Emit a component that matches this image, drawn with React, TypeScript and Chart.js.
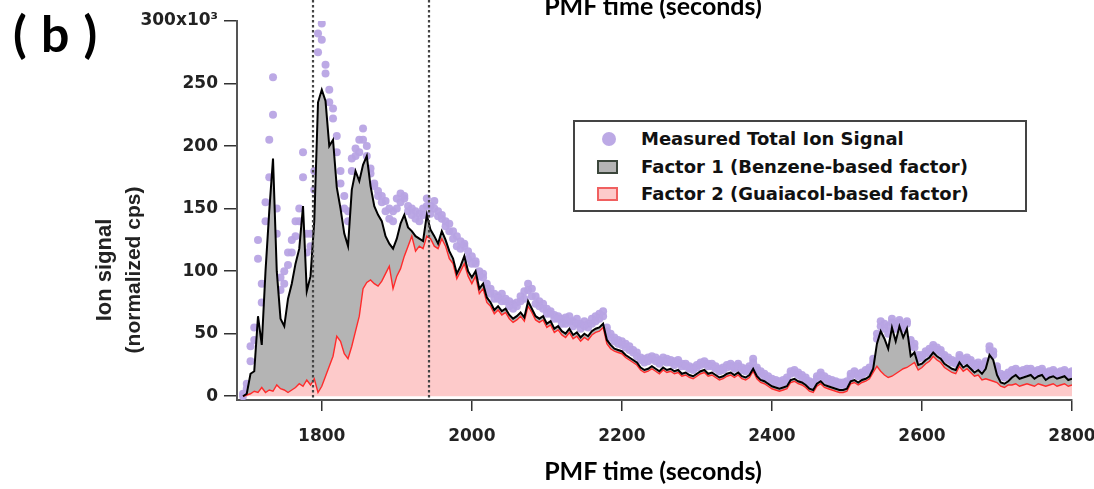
import React, { useEffect, useRef } from "react";
import { Chart, registerables } from "chart.js";

Chart.register(...registerables);

// PMF time (seconds)
const times = [
  1695, 1700, 1705, 1710, 1715, 1720, 1725, 1730, 1735, 1740,
  1745, 1750, 1755, 1760, 1765, 1770, 1775, 1780, 1785, 1790,
  1795, 1800, 1805, 1810, 1815, 1820, 1825, 1830, 1835, 1840,
  1845, 1850, 1855, 1860, 1865, 1870, 1875, 1880, 1885, 1890,
  1895, 1900, 1905, 1910, 1915, 1920, 1925, 1930, 1935, 1940,
  1945, 1950, 1955, 1960, 1965, 1970, 1975, 1980, 1985, 1990,
  1995, 2000, 2005, 2010, 2015, 2020, 2025, 2030, 2035, 2040,
  2045, 2050, 2055, 2060, 2065, 2070, 2075, 2080, 2085, 2090,
  2095, 2100, 2105, 2110, 2115, 2120, 2125, 2130, 2135, 2140,
  2145, 2150, 2155, 2160, 2165, 2170, 2175, 2180, 2185, 2190,
  2195, 2200, 2205, 2210, 2215, 2220, 2225, 2230, 2235, 2240,
  2245, 2250, 2255, 2260, 2265, 2270, 2275, 2280, 2285, 2290,
  2295, 2300, 2305, 2310, 2315, 2320, 2325, 2330, 2335, 2340,
  2345, 2350, 2355, 2360, 2365, 2370, 2375, 2380, 2385, 2390,
  2395, 2400, 2405, 2410, 2415, 2420, 2425, 2430, 2435, 2440,
  2445, 2450, 2455, 2460, 2465, 2470, 2475, 2480, 2485, 2490,
  2495, 2500, 2505, 2510, 2515, 2520, 2525, 2530, 2535, 2540,
  2545, 2550, 2555, 2560, 2565, 2570, 2575, 2580, 2585, 2590,
  2595, 2600, 2605, 2610, 2615, 2620, 2625, 2630, 2635, 2640,
  2645, 2650, 2655, 2660, 2665, 2670, 2675, 2680, 2685, 2690,
  2695, 2700, 2705, 2710, 2715, 2720, 2725, 2730, 2735, 2740,
  2745, 2750, 2755, 2760, 2765, 2770, 2775, 2780, 2785, 2790,
  2795, 2800,
];

// Measured Total Ion Signal (x10^3 normalized cps), upper samples
const measured = [
  2, 10, 40, 55, 125, 90, 155, 205, 255, 150,
  95, 100, 115, 125, 140, 150, 195, 130, 130, 180,
  290, 298, 265, 245, 230, 208, 180, 160, 148, 190,
  198, 205, 214, 192, 178, 168, 164, 160, 156, 150,
  148, 158, 162, 160, 152, 150, 148, 146, 150, 158,
  152, 156, 148, 145, 140, 138, 132, 128, 124, 120,
  116, 112, 106, 100, 98, 90, 86, 82, 80, 82,
  78, 76, 74, 75, 80, 84, 90, 86, 80, 76,
  74, 70, 68, 65, 64, 62, 63, 64, 60, 62,
  58, 60, 58, 62, 64, 66, 68, 55, 50, 47,
  45, 44, 42, 40, 37, 35, 31, 30, 31, 32,
  31, 29, 31, 30, 29, 28, 29, 26, 26, 24,
  23, 25, 27, 28, 26, 26, 24, 22, 23, 25,
  26, 24, 26, 23, 22, 24, 30, 23, 20, 18,
  16, 14, 13, 12, 13, 15, 20, 21, 19, 17,
  15, 12, 11, 16, 19, 16, 14, 13, 12, 11,
  11, 12, 18, 20, 18, 19, 21, 23, 30, 50,
  60, 58, 56, 62, 58, 61, 57, 60, 45, 42,
  33, 33, 36, 38, 41, 39, 37, 33, 31, 29,
  28, 33, 30, 31, 29, 26, 27, 25, 28, 40,
  36, 24, 18, 17, 19, 21, 22, 20, 21, 22,
  22, 20, 21, 22, 19, 20, 21, 19, 20, 21,
  19, 20,
];

// Measured Total Ion Signal, second sample in each interval
const measuredB = [
  0, 6, 28, 45, 110, 75, 140, 175, 225, 130,
  85, 90, 105, 115, 128, 140, 175, 115, 120, 165,
  275, 285, 258, 235, 222, 195, 170, 150, 140, 180,
  192, 195, 205, 200, 182, 170, 160, 155, 148, 142,
  140, 150, 155, 158, 148, 145, 142, 140, 145, 152,
  146, 150, 144, 142, 136, 132, 126, 120, 118, 122,
  110, 106, 108, 96, 95, 86, 82, 78, 78, 76,
  76, 72, 70, 72, 76, 78, 85, 80, 74, 72,
  70, 66, 66, 62, 62, 58, 58, 60, 56, 58,
  54, 56, 55, 58, 60, 62, 64, 52, 47, 44,
  42, 41, 39, 37, 35, 32, 29, 27, 28, 30,
  28, 26, 28, 27, 27, 25, 27, 24, 24, 22,
  21, 23, 25, 26, 24, 24, 22, 20, 21, 23,
  24, 22, 24, 21, 20, 22, 27, 21, 18, 16,
  14, 12, 11, 10, 11, 13, 18, 19, 17, 15,
  13, 10, 9, 14, 17, 14, 12, 11, 10, 9,
  9, 10, 16, 18, 16, 17, 19, 21, 27, 46,
  56, 54, 50, 59, 54, 59, 54, 58, 40, 39,
  30, 31, 34, 35, 39, 37, 35, 31, 29, 27,
  26, 31, 28, 29, 27, 24, 25, 23, 26, 37,
  33, 22, 16, 15, 17, 19, 20, 18, 19, 20,
  20, 18, 19, 20, 17, 18, 19, 17, 18, 19,
  17, 18,
];

// Factor 1 + Factor 2 (PMF model total)
const factorTotal = [
  0, 2, 18, 20, 64, 41, 100, 148, 190, 100,
  62, 56, 78, 90, 106, 118, 152, 84, 96, 140,
  235, 245, 236, 200, 205, 167, 150, 130, 120, 165,
  180, 172, 185, 192, 168, 152, 145, 140, 128, 122,
  118, 126, 138, 145, 135, 132, 128, 126, 124, 145,
  133, 128, 122, 132, 125, 116, 110, 98, 104, 112,
  100, 95, 100, 86, 90, 79, 75, 69, 72, 68,
  70, 65, 62, 64, 67, 63, 76, 70, 64, 62,
  64, 58, 60, 54, 56, 52, 50, 54, 49, 51,
  47, 50, 48, 52, 54, 55, 58, 45, 41, 38,
  37, 36, 33, 31, 29, 27, 23, 21, 22, 24,
  22, 20, 23, 21, 22, 20, 21, 18, 19, 17,
  16, 18, 20, 21, 18, 19, 17, 15, 16, 18,
  19, 17, 19, 16, 15, 17, 22, 16, 13, 12,
  10, 8, 7, 6, 7, 8, 13, 14, 12, 11,
  9, 6, 5, 10, 12, 9, 8, 7, 6, 5,
  5, 6, 12, 13, 11, 13, 14, 16, 22, 42,
  52, 46, 38, 55, 44, 56, 47, 54, 32, 35,
  25, 26, 29, 31, 35, 32, 30, 26, 24, 22,
  21, 27, 23, 25, 22, 19, 21, 18, 22, 33,
  29, 17, 11, 10, 12, 15, 17, 14, 15, 16,
  17, 14, 16, 17, 13, 15, 16, 14, 15, 16,
  13, 14,
];

// Factor 2 (Guaiacol-based factor)
const factor2 = [
  0, 1, 2, 4, 3, 7, 3, 5, 4, 9,
  6, 5, 3, 5, 7, 10, 8, 13, 9, 14,
  3, 8, 16, 24, 32, 48, 44, 34, 30, 40,
  52, 64, 86, 91, 93, 90, 88, 92, 98, 104,
  86, 96, 102, 112, 120, 128, 116, 120, 118, 128,
  126, 120, 118, 126, 120, 110, 106, 94, 100, 106,
  96, 90, 96, 82, 86, 75, 72, 66, 69, 65,
  67, 62, 59, 61, 64, 60, 72, 67, 61, 59,
  61, 55, 57, 51, 53, 49, 47, 51, 46, 48,
  44, 47, 45, 49, 51, 52, 55, 42, 38, 36,
  35, 34, 31, 29, 27, 25, 21, 19, 20, 22,
  20, 18, 21, 19, 20, 18, 19, 16, 17, 15,
  14, 16, 18, 19, 16, 17, 15, 13, 14, 16,
  17, 15, 17, 14, 13, 15, 20, 14, 11, 10,
  8, 6, 5, 4, 5, 6, 11, 12, 10, 9,
  7, 4, 3, 8, 10, 7, 6, 5, 4, 3,
  3, 4, 10, 11, 9, 11, 12, 14, 19, 24,
  20, 17, 15, 16, 18, 20, 22, 23, 25, 27,
  21, 23, 26, 28, 32, 29, 27, 23, 21, 19,
  18, 24, 20, 22, 19, 16, 17, 13, 14, 13,
  12, 11, 8, 7, 9, 9, 10, 8, 9, 10,
  9, 8, 10, 9, 8, 9, 10, 8, 9, 10,
  8, 9,
];

const xTicks = [1800, 2000, 2200, 2400, 2600, 2800];
const yTicks = [0, 50, 100, 150, 200, 250, 300];
const markerTimes = [1788, 1943];

const legendItems = [
  "Measured Total Ion Signal",
  "Factor 1 (Benzene-based factor)",
  "Factor 2 (Guaiacol-based factor)",
];

const W = 1094;
const H = 489;
const DOT = "rgba(184,164,228,0.95)";

export default function App() {
  const ref = useRef<HTMLCanvasElement | null>(null);

  useEffect(() => {
    document.body.style.margin = "0";
    const toXY = (arr: number[]) => times.map((t, i) => ({ x: t, y: arr[i] }));

    const markerPlugin = {
      id: "markers",
      afterDatasetsDraw(chart: any) {
        const { ctx, chartArea, scales } = chart;
        ctx.save();
        ctx.strokeStyle = "#444";
        ctx.lineWidth = 2.2;
        ctx.setLineDash([2.5, 2.5]);
        markerTimes.forEach((t) => {
          const px = Math.round(scales.x.getPixelForValue(t));
          ctx.beginPath();
          ctx.moveTo(px, 0);
          ctx.lineTo(px, chartArea.bottom);
          ctx.stroke();
        });
        ctx.restore();
      },
    };

    const tickFont = { family: "'DejaVu Sans', sans-serif", weight: "bold" as const, size: 17 };

    const chart = new Chart(ref.current as HTMLCanvasElement, {
      type: "line",
      data: {
        datasets: [
          {
            label: "Measured",
            data: toXY(measured),
            showLine: false,
            pointRadius: 4,
            pointBackgroundColor: DOT,
            pointBorderWidth: 0,
            order: 6,
          },
          {
            label: "f2fill",
            data: toXY(factor2),
            fill: "origin",
            backgroundColor: "#fdcaca",
            borderWidth: 0,
            pointRadius: 0,
            order: 4,
          },
          {
            label: "f1fill",
            data: toXY(factorTotal),
            fill: 1,
            backgroundColor: "#b4b4b4",
            borderWidth: 0,
            pointRadius: 0,
            order: 3,
          },
          {
            label: "f2line",
            data: toXY(factor2),
            fill: false,
            borderColor: "#ff2b2b",
            borderWidth: 1.4,
            pointRadius: 0,
            order: 2,
          },
          {
            label: "total",
            data: toXY(factorTotal),
            fill: false,
            borderColor: "#000000",
            borderWidth: 2,
            pointRadius: 0,
            order: 1,
          },
          {
            label: "MeasuredB",
            data: toXY(measuredB),
            showLine: false,
            pointRadius: 4,
            pointBackgroundColor: DOT,
            pointBorderWidth: 0,
            order: 5,
          },
        ] as any,
      },
      options: {
        animation: false,
        responsive: false,
        maintainAspectRatio: false,
        devicePixelRatio: 1,
        layout: { padding: { left: 0, right: 22, top: 21, bottom: 0 } },
        plugins: { legend: { display: false }, tooltip: { enabled: false } },
        elements: { line: { tension: 0 } },
        scales: {
          x: {
            type: "linear",
            min: 1687,
            max: 2800,
            afterBuildTicks: (s: any) => {
              s.ticks = xTicks.map((v) => ({ value: v }));
            },
            afterFit: (s: any) => {
              s.height = 89;
              s.paddingLeft = 0;
              s.paddingRight = 0;
            },
            grid: { drawOnChartArea: false, tickLength: 11, color: "#333", lineWidth: 1.5 },
            border: { color: "#555", width: 2 },
            ticks: {
              font: tickFont,
              color: "#222",
              padding: 15,
              maxRotation: 0,
              autoSkip: false,
              callback: (v: any) => String(v),
            },
          },
          y: {
            type: "linear",
            min: -3,
            max: 300,
            afterBuildTicks: (s: any) => {
              s.ticks = yTicks.map((v) => ({ value: v }));
            },
            afterFit: (s: any) => {
              s.width = 237;
            },
            grid: { drawOnChartArea: false, tickLength: 13, color: "#333", lineWidth: 1.5 },
            border: { color: "#555", width: 2 },
            ticks: {
              font: tickFont,
              color: "#222",
              padding: 6,
              callback: (v: any) => (v === 300 ? "300x10³" : String(v)),
            },
          },
        },
      },
      plugins: [markerPlugin],
    });
    return () => chart.destroy();
  }, []);

  const boldSans = "'Liberation Sans', Arial, sans-serif";
  const wideSans = "'DejaVu Sans', sans-serif";
  const calib = "Lato, 'Open Sans', sans-serif";

  return (
    <div style={{ position: "absolute", left: 0, top: 0, width: W, height: H, background: "#fff", overflow: "hidden" }}>
      <canvas ref={ref} width={W} height={H} style={{ position: "absolute", left: 0, top: 0, width: W, height: H }} />
      <div style={{ position: "absolute", left: 13, top: 4, font: `bold 50px ${calib}`, letterSpacing: 1, lineHeight: "58px", color: "#000", whiteSpace: "pre" }}>
        ( b )
      </div>
      <div style={{ position: "absolute", left: 0, width: 1306, top: -8, textAlign: "center", font: `bold 25px ${calib}`, lineHeight: "26px", color: "#000" }}>
        PMF time (seconds)
      </div>
      <div style={{ position: "absolute", left: 0, width: 1306, top: 456, textAlign: "center", font: `bold 25px ${calib}`, lineHeight: "28px", color: "#000" }}>
        PMF time (seconds)
      </div>
      <div style={{ position: "absolute", left: 104, top: 270, width: 0, height: 0 }}>
        <div style={{ position: "absolute", left: -150, top: -13, width: 300, textAlign: "center", transform: "rotate(-90deg)", font: `bold 22px ${boldSans}`, lineHeight: "26px", color: "#222" }}>
          Ion signal
        </div>
      </div>
      <div style={{ position: "absolute", left: 133, top: 270, width: 0, height: 0 }}>
        <div style={{ position: "absolute", left: -150, top: -13, width: 300, textAlign: "center", transform: "rotate(-90deg)", font: `bold 21px ${boldSans}`, lineHeight: "26px", color: "#222" }}>
          (normalized cps)
        </div>
      </div>
      <div style={{ position: "absolute", left: 573, top: 120, width: 450, height: 88, border: "2px solid #444", background: "#fff" }}>
        {legendItems.map((label, i) => (
          <div key={label} style={{ position: "absolute", left: 0, top: 4 + i * 27.5, height: 26, width: 450 }}>
            {i === 0 ? (
              <div style={{ position: "absolute", left: 27, top: 6, width: 14, height: 14, borderRadius: 7, background: DOT }} />
            ) : (
              <div
                style={{
                  position: "absolute",
                  left: 22,
                  top: 6,
                  width: 21,
                  height: 14,
                  boxSizing: "border-box",
                  background: i === 1 ? "#b4b4b4" : "#fdcaca",
                  border: i === 1 ? "2px solid #3b463b" : "2px solid #f06060",
                }}
              />
            )}
            <div style={{ position: "absolute", left: 66, top: 0, font: `bold 18px ${wideSans}`, lineHeight: "26px", color: "#111", whiteSpace: "nowrap" }}>
              {label}
            </div>
          </div>
        ))}
      </div>
    </div>
  );
}
